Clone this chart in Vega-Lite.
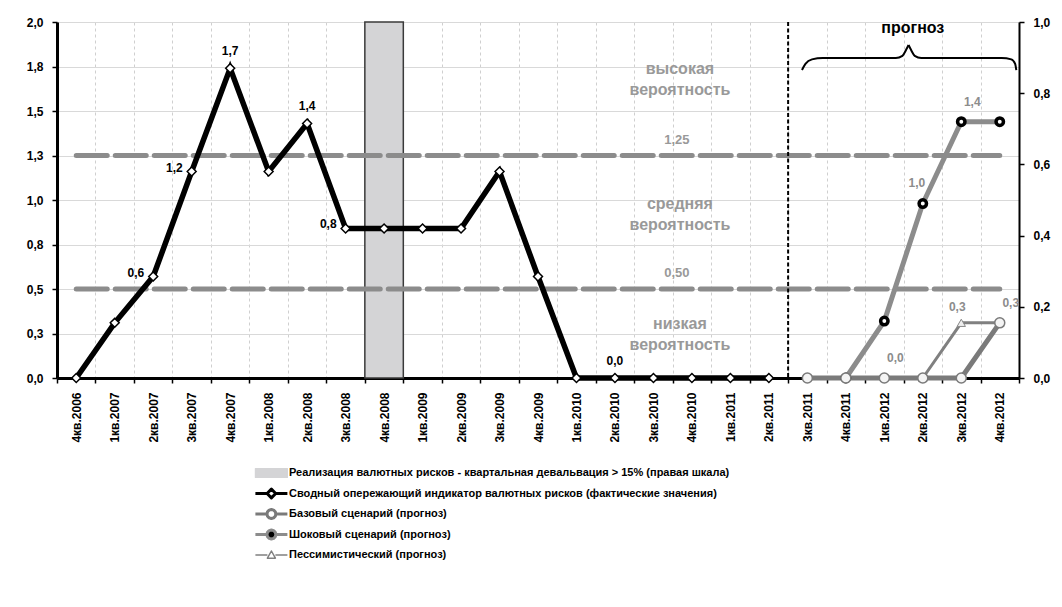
{
  "$schema": "https://vega.github.io/schema/vega-lite/v6.json",
  "width": 962,
  "height": 356,
  "autosize": {"type": "none"},
  "padding": {"left": 57, "top": 22, "right": 43, "bottom": 229},
  "background": "white",
  "config": {
    "locale": {"number": {"decimal": ",", "thousands": " ", "grouping": [3], "currency": ["", ""]}},
    "view": {"stroke": null},
    "font": "Liberation Sans",
    "axis": {"labelFont": "Liberation Sans", "labelFontWeight": "bold", "labelColor": "#000", "labelFontSize": 12}
  },
  "datasets": {
    "events": [
      {"q": "4кв.2008", "r": 1}
    ],
    "thresholds": [
      {"t": 1.25},
      {"t": 0.5}
    ],
    "forecastStart": [
      {"q": "3кв.2011"}
    ],
    "zones": [
      {"v": 1.736, "text": ["высокая", "вероятность"]},
      {"v": 0.98, "text": ["средняя", "вероятность"]},
      {"v": 0.303, "text": ["низкая", "вероятность"]}
    ],
    "brace": [
      {"part": "left", "q": "3кв.2011", "o": 0.36, "v": 1.73},
      {"part": "left", "q": "3кв.2011", "o": 0.45, "v": 1.765},
      {"part": "left", "q": "3кв.2011", "o": 0.62, "v": 1.79},
      {"part": "left", "q": "3кв.2011", "o": 0.9, "v": 1.798},
      {"part": "left", "q": "1кв.2012", "o": 0.8, "v": 1.798},
      {"part": "left", "q": "1кв.2012", "o": 0.97, "v": 1.81},
      {"part": "left", "q": "2кв.2012", "o": 0.07, "v": 1.845},
      {"part": "left", "q": "2кв.2012", "o": 0.13, "v": 1.871},
      {"part": "right", "q": "2кв.2012", "o": 0.13, "v": 1.871},
      {"part": "right", "q": "2кв.2012", "o": 0.19, "v": 1.845},
      {"part": "right", "q": "2кв.2012", "o": 0.29, "v": 1.81},
      {"part": "right", "q": "2кв.2012", "o": 0.46, "v": 1.798},
      {"part": "right", "q": "4кв.2012", "o": 0.55, "v": 1.798},
      {"part": "right", "q": "4кв.2012", "o": 0.8, "v": 1.79},
      {"part": "right", "q": "4кв.2012", "o": 0.9, "v": 1.765},
      {"part": "right", "q": "4кв.2012", "o": 0.93, "v": 1.73}
    ],
    "series": [
      {"series": "Сводный опережающий индикатор валютных рисков (фактические значения)", "q": "4кв.2006", "v": 0},
      {"series": "Сводный опережающий индикатор валютных рисков (фактические значения)", "q": "1кв.2007", "v": 0.31},
      {"series": "Сводный опережающий индикатор валютных рисков (фактические значения)", "q": "2кв.2007", "v": 0.57},
      {"series": "Сводный опережающий индикатор валютных рисков (фактические значения)", "q": "3кв.2007", "v": 1.16},
      {"series": "Сводный опережающий индикатор валютных рисков (фактические значения)", "q": "4кв.2007", "v": 1.74},
      {"series": "Сводный опережающий индикатор валютных рисков (фактические значения)", "q": "1кв.2008", "v": 1.16},
      {"series": "Сводный опережающий индикатор валютных рисков (фактические значения)", "q": "2кв.2008", "v": 1.43},
      {"series": "Сводный опережающий индикатор валютных рисков (фактические значения)", "q": "3кв.2008", "v": 0.84},
      {"series": "Сводный опережающий индикатор валютных рисков (фактические значения)", "q": "4кв.2008", "v": 0.84},
      {"series": "Сводный опережающий индикатор валютных рисков (фактические значения)", "q": "1кв.2009", "v": 0.84},
      {"series": "Сводный опережающий индикатор валютных рисков (фактические значения)", "q": "2кв.2009", "v": 0.84},
      {"series": "Сводный опережающий индикатор валютных рисков (фактические значения)", "q": "3кв.2009", "v": 1.16},
      {"series": "Сводный опережающий индикатор валютных рисков (фактические значения)", "q": "4кв.2009", "v": 0.57},
      {"series": "Сводный опережающий индикатор валютных рисков (фактические значения)", "q": "1кв.2010", "v": 0},
      {"series": "Сводный опережающий индикатор валютных рисков (фактические значения)", "q": "2кв.2010", "v": 0},
      {"series": "Сводный опережающий индикатор валютных рисков (фактические значения)", "q": "3кв.2010", "v": 0},
      {"series": "Сводный опережающий индикатор валютных рисков (фактические значения)", "q": "4кв.2010", "v": 0},
      {"series": "Сводный опережающий индикатор валютных рисков (фактические значения)", "q": "1кв.2011", "v": 0},
      {"series": "Сводный опережающий индикатор валютных рисков (фактические значения)", "q": "2кв.2011", "v": 0},
      {"series": "Пессимистический (прогноз)", "q": "2кв.2012", "v": 0},
      {"series": "Пессимистический (прогноз)", "q": "3кв.2012", "v": 0.31},
      {"series": "Пессимистический (прогноз)", "q": "4кв.2012", "v": 0.31},
      {"series": "Шоковый сценарий (прогноз)", "q": "4кв.2011", "v": 0},
      {"series": "Шоковый сценарий (прогноз)", "q": "1кв.2012", "v": 0.32},
      {"series": "Шоковый сценарий (прогноз)", "q": "2кв.2012", "v": 0.98},
      {"series": "Шоковый сценарий (прогноз)", "q": "3кв.2012", "v": 1.44},
      {"series": "Шоковый сценарий (прогноз)", "q": "4кв.2012", "v": 1.44},
      {"series": "Базовый сценарий (прогноз)", "q": "3кв.2011", "v": 0},
      {"series": "Базовый сценарий (прогноз)", "q": "4кв.2011", "v": 0},
      {"series": "Базовый сценарий (прогноз)", "q": "1кв.2012", "v": 0},
      {"series": "Базовый сценарий (прогноз)", "q": "2кв.2012", "v": 0},
      {"series": "Базовый сценарий (прогноз)", "q": "3кв.2012", "v": 0},
      {"series": "Базовый сценарий (прогноз)", "q": "4кв.2012", "v": 0.31}
    ]
  },
  "layer": [
    {
      "data": {"name": "events"},
      "mark": {"type": "bar", "fill": "#d4d4d6", "stroke": "#3a3a3a", "strokeWidth": 1.5, "width": {"band": 1}},
      "encoding": {
        "x": {
          "field": "q",
          "type": "nominal",
          "scale": {
            "type": "band",
            "paddingInner": 0,
            "paddingOuter": 0,
            "domain": ["4кв.2006", "1кв.2007", "2кв.2007", "3кв.2007", "4кв.2007", "1кв.2008", "2кв.2008", "3кв.2008", "4кв.2008", "1кв.2009", "2кв.2009", "3кв.2009", "4кв.2009", "1кв.2010", "2кв.2010", "3кв.2010", "4кв.2010", "1кв.2011", "2кв.2011", "3кв.2011", "4кв.2011", "1кв.2012", "2кв.2012", "3кв.2012", "4кв.2012"]
          },
          "axis": {
            "title": null,
            "orient": "bottom",
            "tickBand": "extent",
            "grid": true,
            "gridColor": "#cfcfcf",
            "gridDash": [3, 3],
            "gridWidth": 1,
            "domainColor": "#000",
            "domainWidth": 3,
            "tickColor": "#000",
            "tickWidth": 1.5,
            "tickSize": 5,
            "labelAngle": 270,
            "labelPadding": 9,
            "labelFontSize": 12
          }
        },
        "y": {
          "field": "r",
          "type": "quantitative",
          "scale": {"domain": [0, 1], "nice": false},
          "axis": {
            "orient": "right",
            "title": null,
            "values": [0, 0.2, 0.4, 0.6, 0.8, 1],
            "format": ".1f",
            "grid": false,
            "domainColor": "#000",
            "domainWidth": 2,
            "tickColor": "#000",
            "tickWidth": 1.5,
            "tickSize": 5,
            "labelPadding": 9
          }
        }
      }
    },
    {
      "layer": [
        {
          "data": {"name": "thresholds"},
          "mark": {"type": "rule", "color": "#8c8c8c", "strokeWidth": 5, "strokeDash": [31, 8], "strokeCap": "round"},
          "encoding": {
            "x": {"datum": "4кв.2006"},
            "x2": {"datum": "4кв.2012"},
            "y": {
              "field": "t",
              "type": "quantitative",
              "scale": {"domain": [0, 2], "nice": false},
              "axis": {
                "title": null,
                "values": [0, 0.25, 0.5, 0.75, 1, 1.25, 1.5, 1.75, 2],
                "format": ".1f",
                "grid": true,
                "gridColor": "#d9d9d9",
                "gridWidth": 1,
                "domainColor": "#000",
                "domainWidth": 3,
                "tickColor": "#000",
                "tickWidth": 1.5,
                "tickSize": 5,
                "labelPadding": 9
              }
            }
          }
        },
        {
          "data": {"name": "forecastStart"},
          "mark": {"type": "rule", "color": "#000", "strokeWidth": 2, "strokeDash": [4, 2.5]},
          "encoding": {
            "x": {"field": "q", "type": "nominal", "bandPosition": 0}
          }
        },
        {
          "data": {"name": "series"},
          "transform": [{"filter": {"field": "series", "equal": "Пессимистический (прогноз)"}}],
          "mark": {"type": "line", "color": "#808080", "strokeWidth": 3, "strokeJoin": "miter"},
          "encoding": {
            "x": {"field": "q", "type": "nominal"},
            "y": {"field": "v", "type": "quantitative"}
          }
        },
        {
          "data": {"name": "series"},
          "transform": [{"filter": {"field": "series", "equal": "Шоковый сценарий (прогноз)"}}],
          "mark": {"type": "line", "color": "#8c8c8c", "strokeWidth": 5, "strokeJoin": "miter"},
          "encoding": {
            "x": {"field": "q", "type": "nominal"},
            "y": {"field": "v", "type": "quantitative"}
          }
        },
        {
          "data": {"name": "series"},
          "transform": [{"filter": {"field": "series", "equal": "Базовый сценарий (прогноз)"}}],
          "mark": {"type": "line", "color": "#7a7a7a", "strokeWidth": 5, "strokeJoin": "miter"},
          "encoding": {
            "x": {"field": "q", "type": "nominal"},
            "y": {"field": "v", "type": "quantitative"}
          }
        },
        {
          "data": {"name": "series"},
          "transform": [{"filter": {"field": "series", "equal": "Сводный опережающий индикатор валютных рисков (фактические значения)"}}],
          "mark": {"type": "line", "strokeWidth": 5.5, "strokeJoin": "miter"},
          "encoding": {
            "x": {"field": "q", "type": "nominal"},
            "y": {"field": "v", "type": "quantitative"},
            "color": {
              "field": "series",
              "type": "nominal",
              "scale": {
                "domain": [
                  "Реализация валютных рисков - квартальная девальвация > 15% (правая шкала)",
                  "Сводный опережающий индикатор валютных рисков (фактические значения)",
                  "Базовый сценарий (прогноз)",
                  "Шоковый сценарий (прогноз)",
                  "Пессимистический (прогноз)"
                ],
                "range": ["#d4d4d6", "#000000", "#7a7a7a", "#8c8c8c", "#808080"]
              },
              "legend": {
                "title": null,
                "orient": "none",
                "legendX": 232,
                "legendY": 451,
                "direction": "vertical",
                "labelFont": "Liberation Sans",
                "labelFontWeight": "bold",
                "labelFontSize": 11,
                "labelColor": "#000",
                "symbolSize": 1024,
                "labelOffset": 2,
                "rowPadding": 8.5,
                "labelLimit": 600,
                "encode": {
                  "symbols": {
                    "update": {
                      "size": {"value": 1024},
                      "shape": {"signal": "['M-2.1,-0.28L-0.1,-0.28L-0.1,0.28L-2.1,0.28Z','M-2.1,0L-1.37,0M-0.83,0L-0.1,0M-1.1,-0.27L-0.83,0L-1.1,0.27L-1.37,0Z','M-2.1,0L-1.38,0M-0.82,0L-0.1,0M-0.82,0L-0.858,0.14L-0.96,0.242L-1.1,0.28L-1.24,0.242L-1.342,0.14L-1.38,0L-1.342,-0.14L-1.24,-0.242L-1.1,-0.28L-0.96,-0.242L-0.858,-0.14Z','M-2.1,0L-1.38,0M-0.82,0L-0.1,0M-0.82,0L-0.858,0.14L-0.96,0.242L-1.1,0.28L-1.24,0.242L-1.342,0.14L-1.38,0L-1.342,-0.14L-1.24,-0.242L-1.1,-0.28L-0.96,-0.242L-0.858,-0.14Z','M-2.1,0L-1.35,0M-0.85,0L-0.1,0M-1.1,-0.25L-0.85,0.2L-1.35,0.2Z'][datum.index]"},
                      "fill": {"signal": "['#d4d4d6','#ffffff','#ffffff','#000000','#ffffff'][datum.index]"},
                      "stroke": {"signal": "['#444444','#000000','#a6a6a6','#8c8c8c','#8c8c8c'][datum.index]"},
                      "strokeWidth": {"signal": "[1.2,3,3,3,1.5][datum.index]"},
                      "strokeJoin": {"value": "round"},
                      "opacity": {"value": 1}
                    }
                  }
                }
              }
            }
          }
        },
        {
          "data": {"name": "series"},
          "transform": [{"filter": {"field": "series", "equal": "Сводный опережающий индикатор валютных рисков (фактические значения)"}}],
          "mark": {"type": "point", "shape": "diamond", "filled": true, "size": 80, "fill": "#ffffff", "stroke": "#000000", "strokeWidth": 1.5, "opacity": 1},
          "encoding": {
            "x": {"field": "q", "type": "nominal"},
            "y": {"field": "v", "type": "quantitative"}
          }
        },
        {
          "data": {"name": "series"},
          "transform": [{"filter": {"field": "series", "equal": "Шоковый сценарий (прогноз)"}}],
          "mark": {"type": "point", "shape": "circle", "filled": true, "size": 55, "fill": "#ffffff", "stroke": "#000000", "strokeWidth": 3.5, "opacity": 1},
          "encoding": {
            "x": {"field": "q", "type": "nominal"},
            "y": {"field": "v", "type": "quantitative"}
          }
        },
        {
          "data": {"name": "series"},
          "transform": [{"filter": {"field": "series", "equal": "Пессимистический (прогноз)"}}],
          "mark": {"type": "point", "shape": "triangle-up", "filled": true, "size": 70, "fill": "#eeeeee", "stroke": "#8a8a8a", "strokeWidth": 1, "opacity": 1},
          "encoding": {
            "x": {"field": "q", "type": "nominal"},
            "y": {"field": "v", "type": "quantitative"}
          }
        },
        {
          "data": {"name": "series"},
          "transform": [{"filter": {"field": "series", "equal": "Базовый сценарий (прогноз)"}}],
          "mark": {"type": "point", "shape": "circle", "filled": true, "size": 100, "fill": "#f4f4f4", "stroke": "#7a7a7a", "strokeWidth": 1.5, "opacity": 1},
          "encoding": {
            "x": {"field": "q", "type": "nominal"},
            "y": {"field": "v", "type": "quantitative"}
          }
        },
        {
          "data": {"name": "series"},
          "transform": [{"filter": {"and": [
            {"field": "series", "equal": "Сводный опережающий индикатор валютных рисков (фактические значения)"},
            {"field": "q", "oneOf": ["4кв.2007", "2кв.2008", "2кв.2010"]}
          ]}}],
          "mark": {"type": "text", "font": "Liberation Sans", "fontWeight": "bold", "fontSize": 12, "color": "#000", "dy": -17},
          "encoding": {
            "x": {"field": "q", "type": "nominal"},
            "y": {"field": "v", "type": "quantitative"},
            "text": {"field": "v", "type": "quantitative", "format": ".1f"}
          }
        },
        {
          "data": {"name": "series"},
          "transform": [{"filter": {"and": [
            {"field": "series", "equal": "Сводный опережающий индикатор валютных рисков (фактические значения)"},
            {"field": "q", "oneOf": ["2кв.2007", "3кв.2007", "3кв.2008"]}
          ]}}],
          "mark": {"type": "text", "font": "Liberation Sans", "fontWeight": "bold", "fontSize": 12, "color": "#000", "align": "right", "dx": -9, "dy": -4},
          "encoding": {
            "x": {"field": "q", "type": "nominal"},
            "y": {"field": "v", "type": "quantitative"},
            "text": {"field": "v", "type": "quantitative", "format": ".1f"}
          }
        },
        {
          "data": {"name": "series"},
          "transform": [{"filter": {"or": [
            {"and": [{"field": "series", "equal": "Шоковый сценарий (прогноз)"}, {"field": "q", "equal": "3кв.2012"}]},
            {"and": [{"field": "series", "equal": "Базовый сценарий (прогноз)"}, {"field": "q", "oneOf": ["1кв.2012", "4кв.2012"]}]}
          ]}}],
          "mark": {"type": "text", "font": "Liberation Sans", "fontWeight": "bold", "fontSize": 12, "color": "#8c8c8c", "dx": 11, "dy": -20},
          "encoding": {
            "x": {"field": "q", "type": "nominal"},
            "y": {"field": "v", "type": "quantitative"},
            "text": {"field": "v", "type": "quantitative", "format": ".1f"}
          }
        },
        {
          "data": {"name": "series"},
          "transform": [{"filter": {"and": [{"field": "series", "equal": "Шоковый сценарий (прогноз)"}, {"field": "q", "equal": "2кв.2012"}]}}],
          "mark": {"type": "text", "font": "Liberation Sans", "fontWeight": "bold", "fontSize": 12, "color": "#8c8c8c", "dx": -6, "dy": -21},
          "encoding": {
            "x": {"field": "q", "type": "nominal"},
            "y": {"field": "v", "type": "quantitative"},
            "text": {"field": "v", "type": "quantitative", "format": ".1f"}
          }
        },
        {
          "data": {"name": "series"},
          "transform": [{"filter": {"and": [{"field": "series", "equal": "Пессимистический (прогноз)"}, {"field": "q", "equal": "3кв.2012"}]}}],
          "mark": {"type": "text", "font": "Liberation Sans", "fontWeight": "bold", "fontSize": 12, "color": "#8c8c8c", "dx": -4, "dy": -16},
          "encoding": {
            "x": {"field": "q", "type": "nominal"},
            "y": {"field": "v", "type": "quantitative"},
            "text": {"field": "v", "type": "quantitative", "format": ".1f"}
          }
        },
        {
          "data": {"name": "thresholds"},
          "mark": {"type": "text", "font": "Liberation Sans", "fontWeight": "bold", "fontSize": 13, "color": "#999999", "dx": -15, "dy": -16},
          "encoding": {
            "x": {"datum": "4кв.2010"},
            "y": {"field": "t", "type": "quantitative"},
            "text": {"field": "t", "type": "quantitative", "format": ".2f"}
          }
        },
        {
          "data": {"name": "zones"},
          "mark": {"type": "text", "font": "Liberation Sans", "fontWeight": "bold", "fontSize": 16, "color": "#999999", "dx": -12, "lineHeight": 21, "baseline": "middle"},
          "encoding": {
            "x": {"datum": "4кв.2010"},
            "y": {"field": "v", "type": "quantitative"},
            "text": {"field": "text"}
          }
        },
        {
          "data": {"values": [{"label": "прогноз", "v": 1.966}]},
          "mark": {"type": "text", "font": "Liberation Sans", "fontWeight": "bold", "fontSize": 16, "color": "#000", "dx": -10, "baseline": "middle"},
          "encoding": {
            "x": {"datum": "2кв.2012"},
            "y": {"field": "v", "type": "quantitative"},
            "text": {"field": "label"}
          }
        },
        {
          "data": {"name": "brace"},
          "mark": {"type": "line", "color": "#000", "strokeWidth": 2, "interpolate": "monotone"},
          "encoding": {
            "x": {"field": "q", "type": "nominal"},
            "xOffset": {"field": "o", "type": "quantitative", "scale": {"domain": [0, 1]}},
            "y": {"field": "v", "type": "quantitative"},
            "detail": {"field": "part"}
          }
        }
      ]
    }
  ],
  "resolve": {"scale": {"y": "independent", "xOffset": "independent"}}
}
